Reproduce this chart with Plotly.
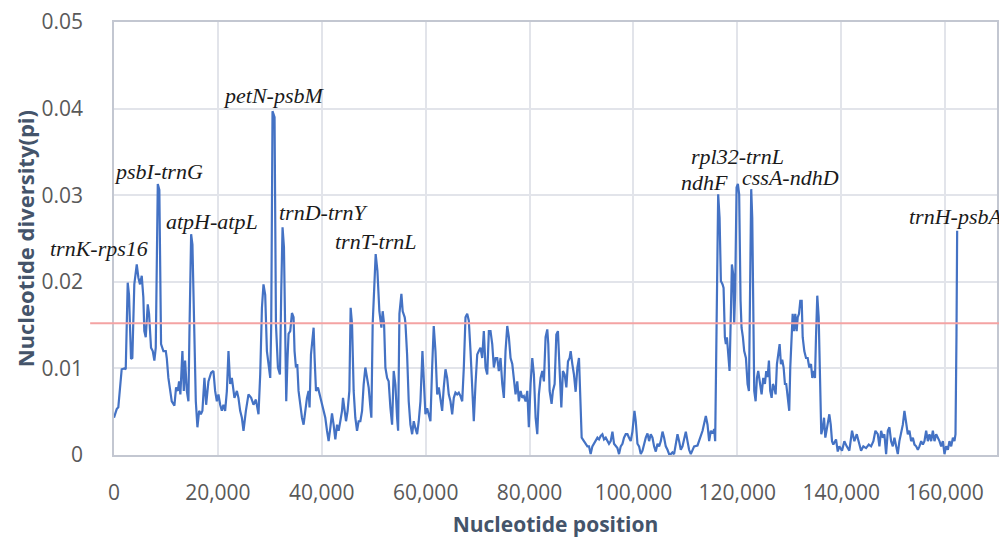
import plotly.graph_objects as go

# Sliding-window nucleotide diversity (position in kb, pi)
lsc_a = [(0.0, 0.0043), (0.52, 0.0053), (0.83, 0.0055), (1.16, 0.0082), (1.48, 0.0099), (1.99, 0.0100),
         (2.26, 0.0099), (2.64, 0.0199), (2.89, 0.0185), (3.28, 0.0111), (3.53, 0.0112), (3.91, 0.0197),
         (4.38, 0.0220), (4.69, 0.0205), (5.01, 0.0197), (5.34, 0.0207), (5.65, 0.0182), (5.84, 0.0143),
         (6.11, 0.0136), (6.50, 0.0174), (6.75, 0.0163), (7.13, 0.0124), (7.46, 0.0120), (7.77, 0.0109),
         (8.04, 0.0124), (8.43, 0.0313), (8.73, 0.0306), (9.06, 0.0128), (9.51, 0.0120), (9.97, 0.0120),
         (10.16, 0.0112), (10.47, 0.0089), (11.12, 0.0062), (11.63, 0.0057), (11.95, 0.0078), (12.28, 0.0074),
         (12.53, 0.0085), (12.78, 0.0070), (13.17, 0.0120), (13.44, 0.0074), (13.69, 0.0109), (14.02, 0.0074),
         (14.33, 0.0062), (14.52, 0.0140), (14.85, 0.0255), (15.10, 0.0243), (15.48, 0.0140), (15.75, 0.0062),
         (16.06, 0.0032), (16.39, 0.0051), (16.72, 0.0047), (17.02, 0.0051), (17.41, 0.0089), (17.74, 0.0058),
         (18.18, 0.0085), (18.70, 0.0095), (19.14, 0.0097), (19.47, 0.0074), (19.80, 0.0062), (20.11, 0.0070),
         (20.44, 0.0058), (20.76, 0.0051), (21.07, 0.0058), (21.40, 0.0051), (21.73, 0.0074), (22.04, 0.0120),
         (22.36, 0.0082), (22.69, 0.0089), (23.19, 0.0066), (23.66, 0.0074), (23.96, 0.0066), (24.29, 0.0051),
         (24.62, 0.0043), (24.93, 0.0028), (25.39, 0.0051), (25.89, 0.0070), (26.41, 0.0066), (26.86, 0.0058),
         (27.32, 0.0064), (27.82, 0.0047), (28.15, 0.0093), (28.48, 0.0170), (28.78, 0.0197), (29.11, 0.0185),
         (29.44, 0.0120), (29.75, 0.0105)]

lsc_b = [(30.08, 0.0089), (30.27, 0.0151), (30.52, 0.0397), (30.91, 0.0390), (31.18, 0.0151), (31.56, 0.0101),
         (31.95, 0.0093), (32.20, 0.0189), (32.45, 0.0263), (32.72, 0.0240), (32.97, 0.0112), (33.16, 0.0062),
         (33.41, 0.0112), (33.61, 0.0140), (33.93, 0.0143), (34.26, 0.0164), (34.57, 0.0159), (34.76, 0.0120),
         (35.03, 0.0101), (35.28, 0.0105), (35.53, 0.0074), (35.86, 0.0055), (36.19, 0.0043), (36.50, 0.0035),
         (36.82, 0.0051), (37.15, 0.0066), (37.46, 0.0074), (37.65, 0.0055), (37.92, 0.0116), (38.23, 0.0136),
         (38.43, 0.0147), (38.62, 0.0112), (38.89, 0.0074), (39.27, 0.0078), (39.72, 0.0066), (40.04, 0.0058),
         (40.35, 0.0051), (40.68, 0.0043), (41.01, 0.0028), (41.32, 0.0016), (41.64, 0.0031), (41.97, 0.0048),
         (42.28, 0.0035), (42.61, 0.0018), (42.94, 0.0035), (43.25, 0.0028), (43.57, 0.0039), (43.90, 0.0051),
         (44.09, 0.0066), (44.34, 0.0051), (44.67, 0.0039), (44.98, 0.0051), (45.31, 0.0074), (45.56, 0.0170),
         (45.83, 0.0151), (46.14, 0.0074), (46.46, 0.0043), (46.79, 0.0028), (47.10, 0.0039), (47.43, 0.0039),
         (47.76, 0.0051), (48.06, 0.0081), (48.39, 0.0101), (48.72, 0.0089), (49.03, 0.0078), (49.36, 0.0055),
         (49.55, 0.0043), (49.80, 0.0151), (50.13, 0.0205), (50.38, 0.0232), (50.71, 0.0213), (51.09, 0.0166),
         (51.48, 0.0147), (51.73, 0.0166), (52.00, 0.0151), (52.25, 0.0101), (52.58, 0.0089), (52.88, 0.0085),
         (53.21, 0.0055), (53.54, 0.0035), (53.85, 0.0097), (54.18, 0.0081), (54.50, 0.0043), (54.70, 0.0028),
         (54.95, 0.0163), (55.33, 0.0186), (55.58, 0.0166), (55.97, 0.0159), (56.10, 0.0153), (56.43, 0.0116),
         (56.74, 0.0062), (57.07, 0.0035), (57.40, 0.0024), (57.71, 0.0039), (58.03, 0.0031), (58.36, 0.0024),
         (58.67, 0.0039), (59.00, 0.0062), (59.38, 0.0120), (59.63, 0.0093), (59.96, 0.0047)]

lsc_c = [(60.29, 0.0054), (60.60, 0.0047), (60.92, 0.0039), (61.25, 0.0101), (61.56, 0.0149), (61.89, 0.0120),
         (62.22, 0.0070), (62.53, 0.0078), (62.85, 0.0066), (63.18, 0.0051), (63.49, 0.0078), (63.82, 0.0099),
         (64.14, 0.0089), (64.45, 0.0070), (64.78, 0.0062), (65.11, 0.0047), (65.42, 0.0066), (65.74, 0.0072),
         (66.07, 0.0070), (66.38, 0.0072), (66.71, 0.0068), (67.04, 0.0062), (67.35, 0.0101), (67.67, 0.0159),
         (68.00, 0.0163), (68.31, 0.0155), (68.64, 0.0120), (68.96, 0.0070), (69.27, 0.0039), (69.60, 0.0082),
         (69.93, 0.0116), (70.24, 0.0120), (70.56, 0.0124), (70.89, 0.0112), (71.20, 0.0143), (71.53, 0.0101),
         (71.86, 0.0093), (72.17, 0.0143), (72.49, 0.0143), (72.82, 0.0128), (73.13, 0.0101), (73.46, 0.0112),
         (73.79, 0.0112), (74.09, 0.0097), (74.42, 0.0112), (74.75, 0.0082), (75.06, 0.0066), (75.38, 0.0120),
         (75.71, 0.0149), (76.02, 0.0136), (76.35, 0.0112), (76.68, 0.0105), (76.98, 0.0089), (77.31, 0.0070),
         (77.64, 0.0085), (77.95, 0.0062), (78.28, 0.0074), (78.60, 0.0066), (78.91, 0.0068), (79.24, 0.0062),
         (79.57, 0.0074), (79.87, 0.0032), (80.20, 0.0082), (80.53, 0.0112), (80.84, 0.0093), (81.17, 0.0043),
         (81.49, 0.0024), (81.80, 0.0070), (82.13, 0.0089), (82.46, 0.0097), (82.77, 0.0085), (83.09, 0.0136),
         (83.42, 0.0145), (83.61, 0.0128), (83.87, 0.0074), (84.25, 0.0059), (84.50, 0.0074), (84.83, 0.0082),
         (85.16, 0.0139), (85.47, 0.0143), (85.80, 0.0097), (86.12, 0.0055), (86.43, 0.0097), (86.76, 0.0093),
         (87.09, 0.0078), (87.40, 0.0108), (87.72, 0.0112), (87.92, 0.0120), (88.24, 0.0105), (88.55, 0.0093),
         (88.88, 0.0073), (89.21, 0.0101), (89.52, 0.0112), (89.71, 0.0085)]

irb = [(90.04, 0.0020), (90.48, 0.0016), (90.81, 0.0013), (91.14, 0.0010), (91.45, 0.0010), (91.77, 0.0001),
       (92.10, 0.0010), (92.41, 0.0013), (92.74, 0.0016), (93.07, 0.0020), (93.38, 0.0018), (93.70, 0.0022),
       (94.03, 0.0024), (94.34, 0.0018), (94.67, 0.0020), (94.99, 0.0016), (95.30, 0.0013), (95.63, 0.0016),
       (95.96, 0.0027), (96.27, 0.0013), (96.59, 0.0010), (96.92, 0.0008), (97.23, 0.0001), (97.56, 0.0010),
       (97.89, 0.0013), (98.19, 0.0020), (98.52, 0.0024), (98.85, 0.0024), (99.16, 0.0020), (99.48, 0.0016),
       (99.81, 0.0027), (100.20, 0.0051), (100.45, 0.0039), (100.78, 0.0013), (101.09, 0.0010), (101.42, 0.0001),
       (101.75, 0.0005), (102.05, 0.0013), (102.38, 0.0020), (102.71, 0.0025), (103.02, 0.0016), (103.34, 0.0024),
       (103.67, 0.0020), (103.98, 0.0010), (104.31, 0.0004), (104.64, 0.0013), (104.95, 0.0010), (105.27, 0.0016),
       (105.60, 0.0027), (105.91, 0.0020), (106.23, 0.0010), (106.56, 0.0006), (106.87, 0.0001), (107.20, 0.0001),
       (107.52, 0.0003), (107.83, 0.0001), (108.16, 0.0013), (108.49, 0.0024), (108.80, 0.0016), (109.12, 0.0006),
       (109.45, 0.0010), (109.76, 0.0020), (110.09, 0.0027), (110.41, 0.0016), (110.72, 0.0006), (111.05, 0.0001),
       (111.69, 0.0010), (112.34, 0.0011), (112.65, 0.0016), (113.31, 0.0028), (113.94, 0.0045), (114.27, 0.0035),
       (114.58, 0.0016), (114.91, 0.0028), (115.24, 0.0025), (115.55, 0.0030), (115.74, 0.0016)]

ssc = [(115.93, 0.0139), (116.32, 0.0301), (116.59, 0.0274), (116.84, 0.0201), (117.17, 0.0197), (117.36, 0.0193),
       (117.61, 0.0136), (117.80, 0.0128), (118.00, 0.0136), (118.25, 0.0120), (118.51, 0.0097), (118.77, 0.0166),
       (118.96, 0.0220), (119.21, 0.0209), (119.40, 0.0151), (119.59, 0.0189), (119.86, 0.0309), (120.11, 0.0313),
       (120.36, 0.0301), (120.63, 0.0178), (120.82, 0.0147), (121.08, 0.0136), (121.33, 0.0120), (121.66, 0.0112),
       (121.98, 0.0082), (122.24, 0.0074), (122.49, 0.0205), (122.68, 0.0307), (122.88, 0.0274), (123.07, 0.0120),
       (123.26, 0.0074), (123.53, 0.0062), (123.78, 0.0089), (124.03, 0.0097), (124.36, 0.0082), (124.68, 0.0070),
       (125.00, 0.0089), (125.32, 0.0082), (125.57, 0.0097), (125.84, 0.0090), (126.09, 0.0109), (126.34, 0.0074),
       (126.61, 0.0066), (126.86, 0.0082), (127.11, 0.0078), (127.38, 0.0070), (127.63, 0.0105), (127.88, 0.0120),
       (128.15, 0.0128), (128.40, 0.0105), (128.65, 0.0110), (128.92, 0.0101), (129.17, 0.0082), (129.42, 0.0082),
       (129.70, 0.0066), (130.00, 0.0051), (130.20, 0.0101), (130.47, 0.0151), (130.66, 0.0163), (130.91, 0.0143),
       (131.16, 0.0163), (131.43, 0.0143), (131.63, 0.0159), (131.88, 0.0163), (132.13, 0.0178), (132.40, 0.0178),
       (132.59, 0.0136), (132.90, 0.0120), (133.23, 0.0112), (133.55, 0.0112), (133.86, 0.0101), (134.19, 0.0105),
       (134.44, 0.0089), (134.71, 0.0097), (134.96, 0.0089), (135.15, 0.0136), (135.40, 0.0184), (135.67, 0.0159),
       (135.92, 0.0082)]

ira = [(136.17, 0.0024), (136.45, 0.0031), (136.70, 0.0043), (136.95, 0.0020), (137.22, 0.0030), (137.47, 0.0043),
       (137.72, 0.0047), (137.99, 0.0035), (138.24, 0.0016), (138.49, 0.0012), (139.01, 0.0018), (139.34, 0.0004),
       (139.64, 0.0010), (140.16, 0.0005), (140.61, 0.0016), (141.07, 0.0010), (141.57, 0.0005), (142.09, 0.0028),
       (142.54, 0.0016), (143.00, 0.0024), (143.39, 0.0016), (143.83, 0.0005), (144.27, 0.0010), (144.79, 0.0008),
       (145.31, 0.0012), (145.76, 0.0010), (146.20, 0.0016), (146.59, 0.0028), (147.05, 0.0024), (147.36, 0.0010),
       (147.69, 0.0028), (148.01, 0.0020), (148.32, 0.0024), (148.65, 0.0001), (148.98, 0.0028), (149.29, 0.0032),
       (149.61, 0.0016), (149.94, 0.0010), (150.25, 0.0020), (150.58, 0.0010), (150.90, 0.0001), (151.21, 0.0016),
       (151.60, 0.0028), (151.87, 0.0035), (152.18, 0.0051), (152.50, 0.0039), (152.83, 0.0024), (153.14, 0.0028),
       (153.47, 0.0016), (153.80, 0.0020), (154.11, 0.0012), (154.44, 0.0010), (154.76, 0.0006), (155.07, 0.0010),
       (155.40, 0.0016), (155.73, 0.0012), (156.03, 0.0016), (156.36, 0.0028), (156.69, 0.0016), (157.00, 0.0024),
       (157.32, 0.0016), (157.65, 0.0028), (157.96, 0.0016), (158.29, 0.0024), (158.62, 0.0020), (158.93, 0.0016),
       (159.25, 0.0010), (159.58, 0.0016), (159.89, 0.0001), (160.21, 0.0010), (160.54, 0.0006), (160.85, 0.0016),
       (161.18, 0.0010), (161.51, 0.0020), (161.81, 0.0016), (162.01, 0.0024), (162.20, 0.0139), (162.33, 0.0259)]

threshold = 0.0152

x_ticks = [0, 20000, 40000, 60000, 80000, 100000, 120000, 140000, 160000]
y_ticks = [0, 0.01, 0.02, 0.03, 0.04, 0.05]

# Region labels: (text, x in bp, y in pi, horizontal anchor)
labels = [
    ("trnK-rps16", 6930, 0.0238, "right"),
    ("psbI-trnG", 8660, 0.0327, "center"),
    ("atpH-atpL", 18960, 0.0270, "center"),
    ("petN-psbM", 30800, 0.0415, "center"),
    ("trnD-trnY", 40420, 0.0280, "center"),
    ("trnT-trnL", 50430, 0.0246, "center"),
    ("rpl32-trnL", 120020, 0.0345, "center"),
    ("ndhF", 113770, 0.0315, "center"),
    ("cssA-ndhD", 130320, 0.0320, "center"),
    ("trnH-psbA", 162080, 0.0275, "center"),
]

points = lsc_a + lsc_b + lsc_c + irb + ssc + ira
pos = [p * 1000 for p, _ in points]
pi = [v for _, v in points]

fig = go.Figure()
fig.add_trace(go.Scatter(x=pos, y=pi, mode="lines",
                         line=dict(color="#4472C4", width=2.2), showlegend=False,
                         hoverinfo="x+y"))

fig.add_shape(type="line", xref="paper", yref="y", x0=-0.027, x1=1.02,
              y0=threshold, y1=threshold, line=dict(color="#F4A3A3", width=2))

for text, lx, ly, anchor in labels:
    fig.add_annotation(x=lx, y=ly, xref="x", yref="y", text="<i>" + text + "</i>",
                       showarrow=False, xanchor=anchor, yanchor="middle",
                       font=dict(family="Liberation Serif", size=22, color="#1a1a1a"))

# y-axis title placed as a rotated paper annotation, left of the tick labels
fig.add_annotation(x=-0.101, y=0.5, xref="paper", yref="paper",
                   text="<b>Nucleotide diversity(pi)</b>", textangle=-90, showarrow=False,
                   xanchor="center", yanchor="middle",
                   font=dict(family="Open Sans", size=22, color="#44546A"))

# the page body adds an 8 px margin, so the figure is sized to fit the window
fig.update_layout(
    width=999, height=530,
    margin=dict(l=106, r=10, t=14, b=83, autoexpand=False),
    paper_bgcolor="white", plot_bgcolor="white",
    font=dict(family="Open Sans", color="#595959"),
)
fig.update_xaxes(range=[0, 170000], tickvals=x_ticks, tickformat=",d", automargin=False,
                 showgrid=True, gridcolor="#E2E4EA", gridwidth=1.5,
                 showline=True, linecolor="#C3C7D1", linewidth=1.5, mirror=True,
                 zeroline=False, ticks="", ticklabelstandoff=18, ticklabeloverflow="allow",
                 tickfont=dict(size=21, color="#595959"),
                 title=dict(text="<b>Nucleotide position</b>", standoff=13,
                            font=dict(size=21, color="#44546A")))
fig.update_yaxes(range=[0, 0.05], tickvals=y_ticks, automargin=False,
                 showgrid=True, gridcolor="#E2E4EA", gridwidth=1.5,
                 showline=True, linecolor="#C3C7D1", linewidth=1.5, mirror=True,
                 zeroline=False, ticks="", ticklabelstandoff=25, ticklabeloverflow="allow",
                 tickfont=dict(size=21, color="#595959"))

fig.write_html("out.html")
